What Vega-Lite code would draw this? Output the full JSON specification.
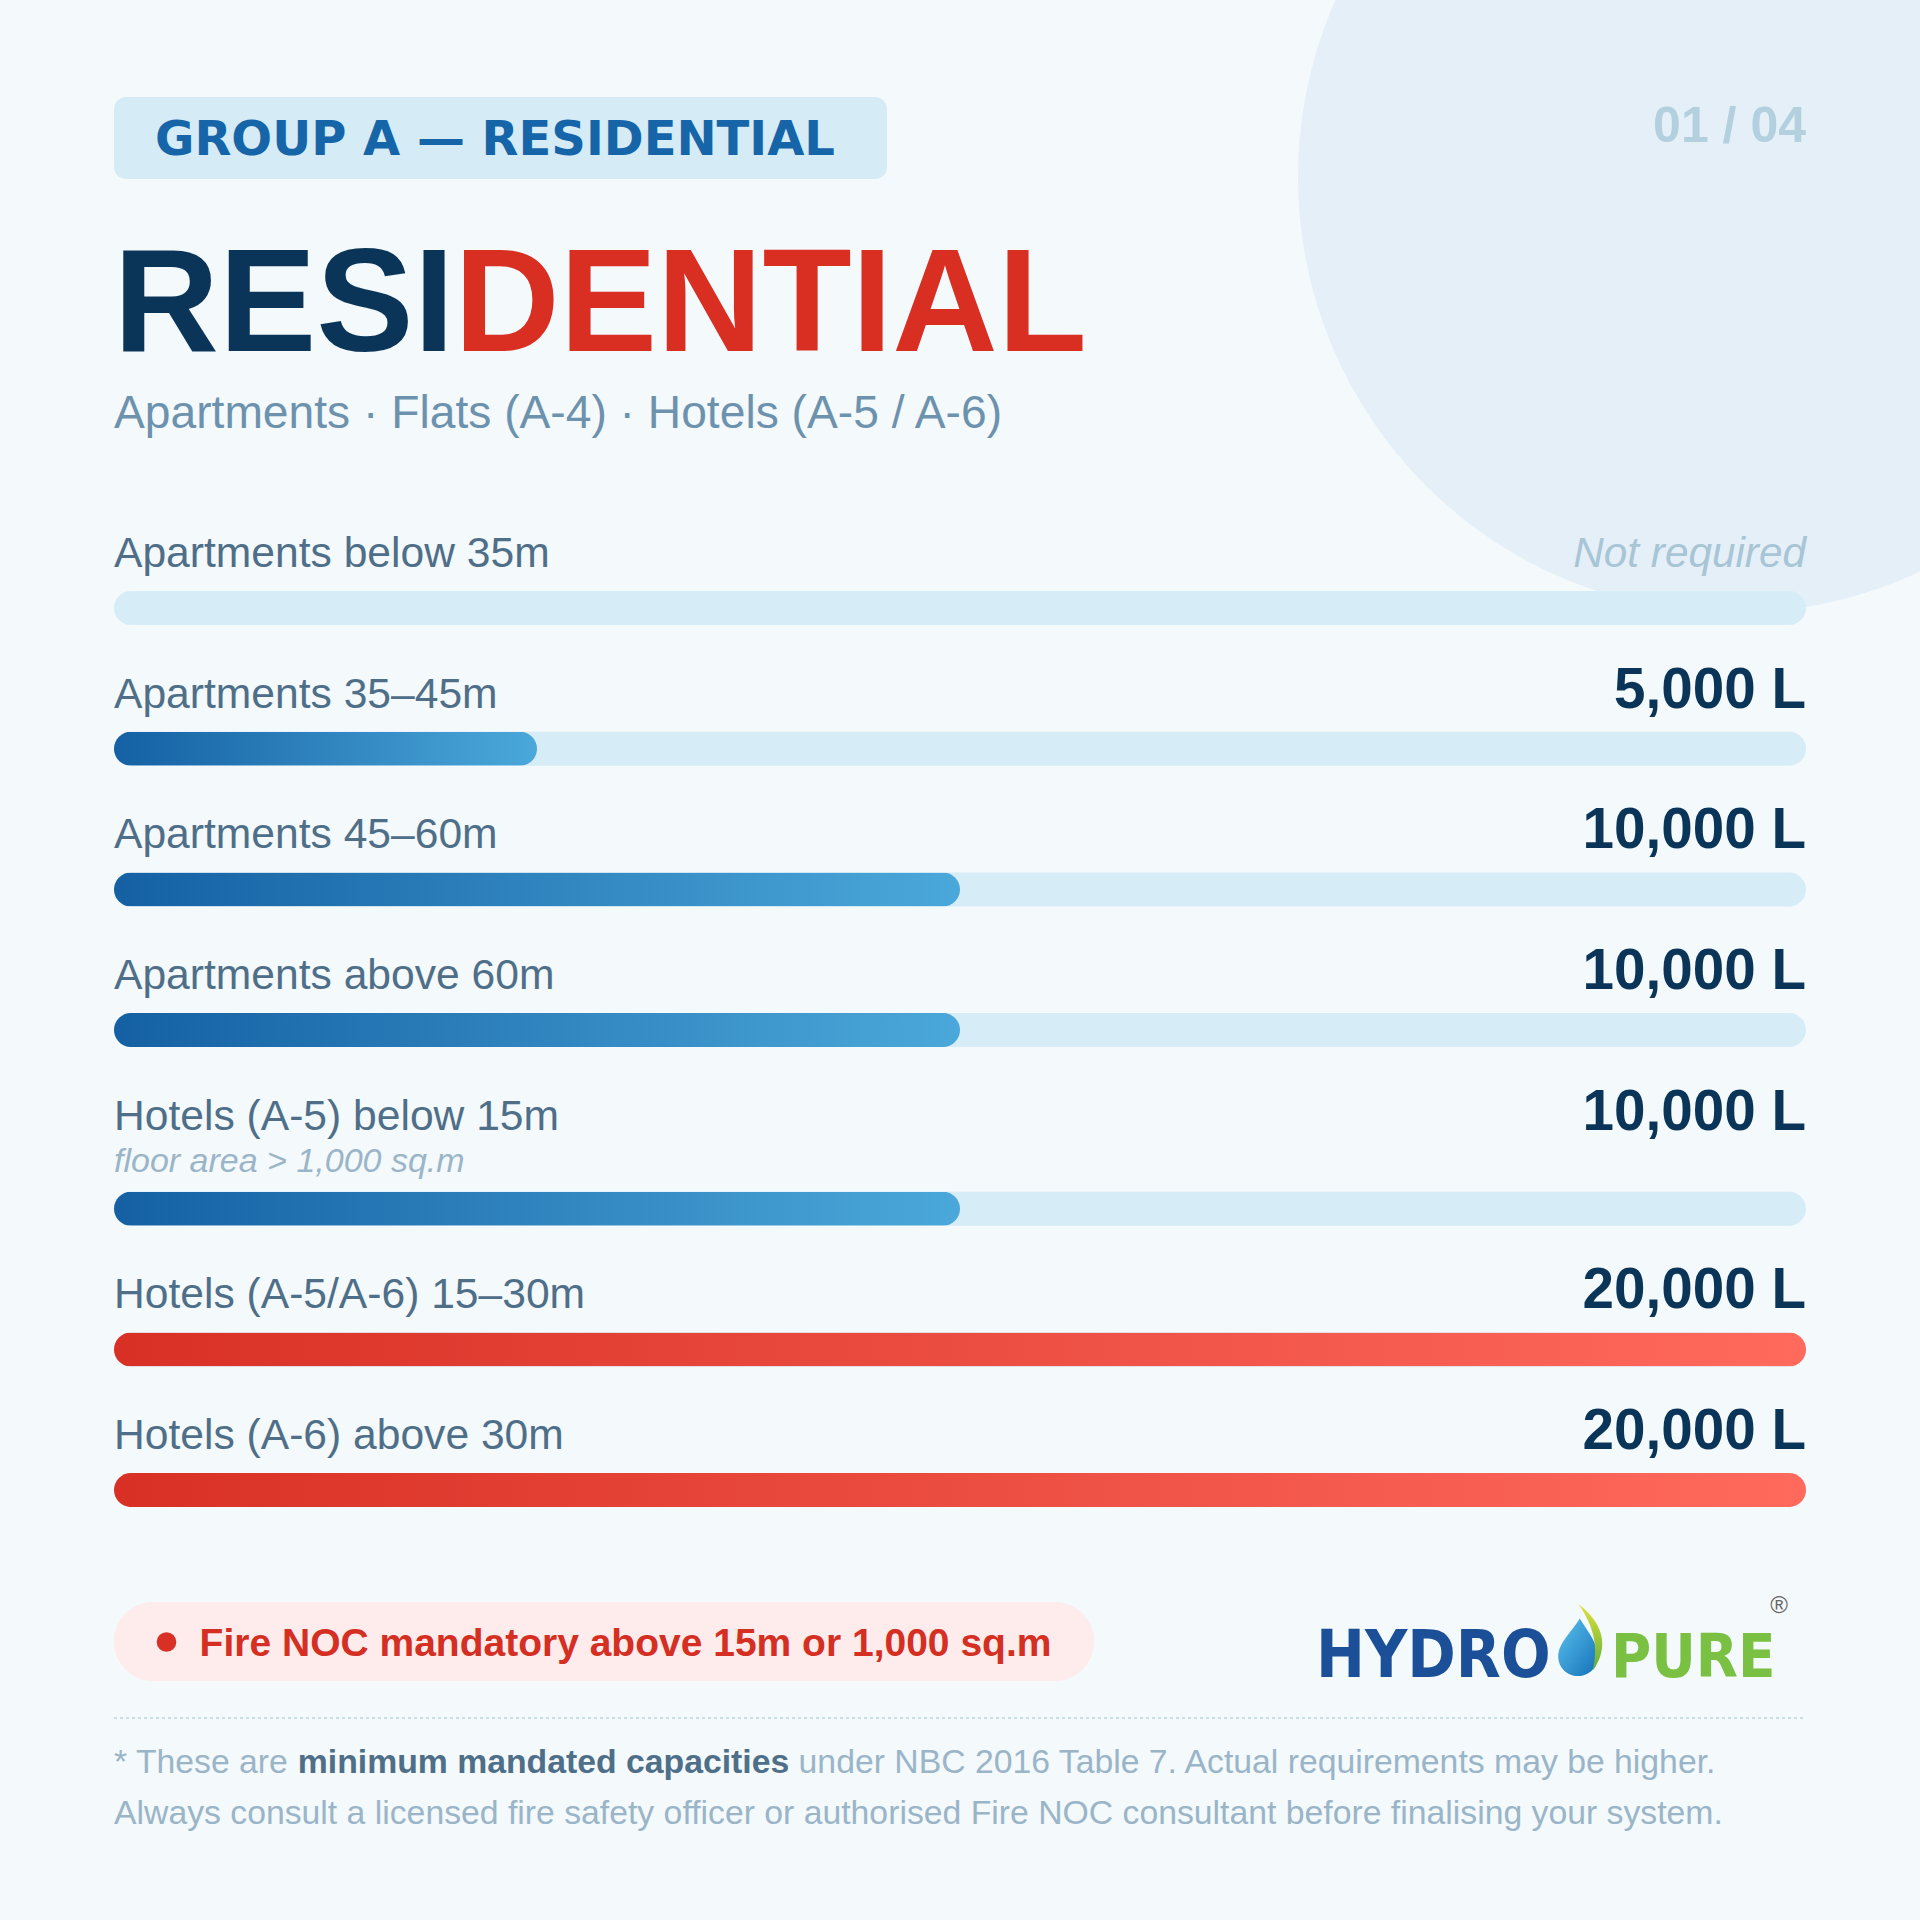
{
  "$schema": "https://vega.github.io/schema/vega-lite/v6.json",
  "width": 1692,
  "height": 1920,
  "autosize": {"type": "none"},
  "padding": {"left": 114, "right": 114, "top": 0, "bottom": 0},
  "background": "#f4f9fc",
  "config": {"view": {"stroke": null}, "text": {"font": "Liberation Sans"}},
  "datasets": {
    "rows": [
      {"idx": 1, "category": "Apartments below 35m", "note": null, "liters": 0, "display": "Not required"},
      {"idx": 2, "category": "Apartments 35–45m", "note": null, "liters": 5000, "display": "5,000 L"},
      {"idx": 3, "category": "Apartments 45–60m", "note": null, "liters": 10000, "display": "10,000 L"},
      {"idx": 4, "category": "Apartments above 60m", "note": null, "liters": 10000, "display": "10,000 L"},
      {"idx": 5, "category": "Hotels (A-5) below 15m", "note": "floor area > 1,000 sq.m", "liters": 10000, "display": "10,000 L"},
      {"idx": 6, "category": "Hotels (A-5/A-6) 15–30m", "note": null, "liters": 20000, "display": "20,000 L"},
      {"idx": 7, "category": "Hotels (A-6) above 30m", "note": null, "liters": 20000, "display": "20,000 L"}
    ]
  },
  "layer": [
    {
      "data": {"values": [{"item": "circle"}]},
      "mark": {"type": "point", "shape": "circle", "filled": true, "color": "#e4eff8", "opacity": 1, "size": 760384, "strokeWidth": 0},
      "encoding": {"x": {"value": 1620}, "y": {"value": 177}}
    },
    {
      "data": {"values": [{"item": "badge"}]},
      "mark": {"type": "rect", "color": "#d5ecf7", "cornerRadius": 12},
      "encoding": {"x": {"value": 0}, "x2": {"value": 773}, "y": {"value": 97}, "y2": {"value": 179}}
    },
    {
      "data": {"values": [{"text": "GROUP A — RESIDENTIAL"}]},
      "mark": {"type": "text", "font": "DejaVu Sans", "fontWeight": "bold", "fontSize": 48, "color": "#1565a8", "align": "left", "baseline": "alphabetic"},
      "encoding": {"x": {"value": 41}, "y": {"value": 155}, "text": {"field": "text"}}
    },
    {
      "data": {"values": [{"text": "RESI"}]},
      "mark": {"type": "text", "font": "Liberation Sans", "fontWeight": "bold", "fontSize": 146, "color": "#0b3558", "align": "left", "baseline": "alphabetic"},
      "encoding": {"x": {"value": -0.5}, "y": {"value": 351}, "text": {"field": "text"}}
    },
    {
      "data": {"values": [{"text": "DENTIAL"}]},
      "mark": {"type": "text", "font": "Liberation Sans", "fontWeight": "bold", "fontSize": 146, "color": "#d92f23", "align": "left", "baseline": "alphabetic"},
      "encoding": {"x": {"value": 340.3}, "y": {"value": 351}, "text": {"field": "text"}}
    },
    {
      "data": {"values": [{"text": "Apartments · Flats (A-4) · Hotels (A-5 / A-6)"}]},
      "mark": {"type": "text", "font": "Liberation Sans", "fontSize": 46.2, "color": "#6d92ad", "align": "left", "baseline": "alphabetic"},
      "encoding": {"x": {"value": 0}, "y": {"value": 428}, "text": {"field": "text"}}
    },
    {
      "data": {"values": [{"text": "01 / 04"}]},
      "mark": {"type": "text", "font": "Liberation Sans", "fontWeight": "bold", "fontSize": 50, "color": "#b3d0de", "align": "right", "baseline": "alphabetic"},
      "encoding": {"x": {"value": 1692}, "y": {"value": 142}, "text": {"field": "text"}}
    },
    {
      "data": {"name": "rows"},
      "transform": [{"filter": "datum.idx <= 4"}],
      "mark": {"type": "bar", "color": "#d6ecf7", "size": 34, "cornerRadius": 17},
      "encoding": {
        "x": {"datum": 0, "type": "quantitative", "axis": null, "scale": {"domain": [0, 20000], "nice": false, "zero": true}},
        "x2": {"datum": 20000},
        "y": {"field": "category", "type": "nominal", "axis": null, "scale": {"domain": ["Apartments below 35m", "Apartments 35–45m", "Apartments 45–60m", "Apartments above 60m", "Hotels (A-5) below 15m", "Hotels (A-5/A-6) 15–30m", "Hotels (A-6) above 30m"], "range": [537.7, 1522.4], "paddingInner": 0, "paddingOuter": 0}}
      }
    },
    {
      "data": {"name": "rows"},
      "transform": [{"filter": "datum.idx >= 5"}],
      "mark": {"type": "bar", "color": "#d6ecf7", "size": 34, "cornerRadius": 17, "yOffset": 38},
      "encoding": {
        "x": {"datum": 0, "type": "quantitative", "axis": null, "scale": {"domain": [0, 20000], "nice": false, "zero": true}},
        "x2": {"datum": 20000},
        "y": {"field": "category", "type": "nominal", "axis": null, "scale": {"domain": ["Apartments below 35m", "Apartments 35–45m", "Apartments 45–60m", "Apartments above 60m", "Hotels (A-5) below 15m", "Hotels (A-5/A-6) 15–30m", "Hotels (A-6) above 30m"], "range": [537.7, 1522.4], "paddingInner": 0, "paddingOuter": 0}}
      }
    },
    {
      "data": {"name": "rows"},
      "transform": [{"filter": "datum.idx <= 4 && datum.liters > 0 && datum.liters < 20000"}],
      "mark": {"type": "bar", "size": 34, "cornerRadius": 17, "color": {"gradient": "linear", "x1": 0, "y1": 0, "x2": 1, "y2": 0, "stops": [{"offset": 0, "color": "#1460a3"}, {"offset": 1, "color": "#4ba8da"}]}},
      "encoding": {
        "x": {"field": "liters", "type": "quantitative", "axis": null, "scale": {"domain": [0, 20000], "nice": false, "zero": true}},
        "y": {"field": "category", "type": "nominal", "axis": null, "scale": {"domain": ["Apartments below 35m", "Apartments 35–45m", "Apartments 45–60m", "Apartments above 60m", "Hotels (A-5) below 15m", "Hotels (A-5/A-6) 15–30m", "Hotels (A-6) above 30m"], "range": [537.7, 1522.4], "paddingInner": 0, "paddingOuter": 0}}
      }
    },
    {
      "data": {"name": "rows"},
      "transform": [{"filter": "datum.idx >= 5 && datum.liters > 0 && datum.liters < 20000"}],
      "mark": {"type": "bar", "size": 34, "cornerRadius": 17, "yOffset": 38, "color": {"gradient": "linear", "x1": 0, "y1": 0, "x2": 1, "y2": 0, "stops": [{"offset": 0, "color": "#1460a3"}, {"offset": 1, "color": "#4ba8da"}]}},
      "encoding": {
        "x": {"field": "liters", "type": "quantitative", "axis": null, "scale": {"domain": [0, 20000], "nice": false, "zero": true}},
        "y": {"field": "category", "type": "nominal", "axis": null, "scale": {"domain": ["Apartments below 35m", "Apartments 35–45m", "Apartments 45–60m", "Apartments above 60m", "Hotels (A-5) below 15m", "Hotels (A-5/A-6) 15–30m", "Hotels (A-6) above 30m"], "range": [537.7, 1522.4], "paddingInner": 0, "paddingOuter": 0}}
      }
    },
    {
      "data": {"name": "rows"},
      "transform": [{"filter": "datum.liters >= 20000"}],
      "mark": {"type": "bar", "size": 34, "cornerRadius": 17, "yOffset": 38, "color": {"gradient": "linear", "x1": 0, "y1": 0, "x2": 1, "y2": 0, "stops": [{"offset": 0, "color": "#d93025"}, {"offset": 1, "color": "#ff6a5d"}]}},
      "encoding": {
        "x": {"field": "liters", "type": "quantitative", "axis": null, "scale": {"domain": [0, 20000], "nice": false, "zero": true}},
        "y": {"field": "category", "type": "nominal", "axis": null, "scale": {"domain": ["Apartments below 35m", "Apartments 35–45m", "Apartments 45–60m", "Apartments above 60m", "Hotels (A-5) below 15m", "Hotels (A-5/A-6) 15–30m", "Hotels (A-6) above 30m"], "range": [537.7, 1522.4], "paddingInner": 0, "paddingOuter": 0}}
      }
    },
    {
      "data": {"name": "rows"},
      "transform": [{"filter": "datum.idx <= 5"}],
      "mark": {"type": "text", "font": "Liberation Sans", "fontSize": 42.6, "color": "#4f6f89", "align": "left", "baseline": "alphabetic", "dy": -41},
      "encoding": {
        "x": {"datum": 0, "type": "quantitative", "axis": null, "scale": {"domain": [0, 20000], "nice": false, "zero": true}},
        "y": {"field": "category", "type": "nominal", "axis": null, "scale": {"domain": ["Apartments below 35m", "Apartments 35–45m", "Apartments 45–60m", "Apartments above 60m", "Hotels (A-5) below 15m", "Hotels (A-5/A-6) 15–30m", "Hotels (A-6) above 30m"], "range": [537.7, 1522.4], "paddingInner": 0, "paddingOuter": 0}},
        "text": {"field": "category"}
      }
    },
    {
      "data": {"name": "rows"},
      "transform": [{"filter": "datum.idx >= 6"}],
      "mark": {"type": "text", "font": "Liberation Sans", "fontSize": 42.6, "color": "#4f6f89", "align": "left", "baseline": "alphabetic", "dy": -3},
      "encoding": {
        "x": {"datum": 0, "type": "quantitative", "axis": null, "scale": {"domain": [0, 20000], "nice": false, "zero": true}},
        "y": {"field": "category", "type": "nominal", "axis": null, "scale": {"domain": ["Apartments below 35m", "Apartments 35–45m", "Apartments 45–60m", "Apartments above 60m", "Hotels (A-5) below 15m", "Hotels (A-5/A-6) 15–30m", "Hotels (A-6) above 30m"], "range": [537.7, 1522.4], "paddingInner": 0, "paddingOuter": 0}},
        "text": {"field": "category"}
      }
    },
    {
      "data": {"name": "rows"},
      "transform": [{"filter": "datum.note != null"}],
      "mark": {"type": "text", "font": "Liberation Sans", "fontSize": 34, "fontStyle": "italic", "color": "#9bb5c8", "align": "left", "baseline": "alphabetic", "dy": 1},
      "encoding": {
        "x": {"datum": 0, "type": "quantitative", "axis": null, "scale": {"domain": [0, 20000], "nice": false, "zero": true}},
        "y": {"field": "category", "type": "nominal", "axis": null, "scale": {"domain": ["Apartments below 35m", "Apartments 35–45m", "Apartments 45–60m", "Apartments above 60m", "Hotels (A-5) below 15m", "Hotels (A-5/A-6) 15–30m", "Hotels (A-6) above 30m"], "range": [537.7, 1522.4], "paddingInner": 0, "paddingOuter": 0}},
        "text": {"field": "note"}
      }
    },
    {
      "data": {"name": "rows"},
      "transform": [{"filter": "datum.liters == 0"}],
      "mark": {"type": "text", "font": "Liberation Sans", "fontSize": 42.3, "fontStyle": "italic", "color": "#a8c5d6", "align": "right", "baseline": "alphabetic", "dy": -41},
      "encoding": {
        "x": {"datum": 20000, "type": "quantitative", "axis": null, "scale": {"domain": [0, 20000], "nice": false, "zero": true}},
        "y": {"field": "category", "type": "nominal", "axis": null, "scale": {"domain": ["Apartments below 35m", "Apartments 35–45m", "Apartments 45–60m", "Apartments above 60m", "Hotels (A-5) below 15m", "Hotels (A-5/A-6) 15–30m", "Hotels (A-6) above 30m"], "range": [537.7, 1522.4], "paddingInner": 0, "paddingOuter": 0}},
        "text": {"field": "display"}
      }
    },
    {
      "data": {"name": "rows"},
      "transform": [{"filter": "datum.liters > 0 && datum.idx <= 5"}],
      "mark": {"type": "text", "font": "Liberation Sans", "fontSize": 56.6, "fontWeight": "bold", "color": "#0b3558", "align": "right", "baseline": "alphabetic", "dy": -41},
      "encoding": {
        "x": {"datum": 20000, "type": "quantitative", "axis": null, "scale": {"domain": [0, 20000], "nice": false, "zero": true}},
        "y": {"field": "category", "type": "nominal", "axis": null, "scale": {"domain": ["Apartments below 35m", "Apartments 35–45m", "Apartments 45–60m", "Apartments above 60m", "Hotels (A-5) below 15m", "Hotels (A-5/A-6) 15–30m", "Hotels (A-6) above 30m"], "range": [537.7, 1522.4], "paddingInner": 0, "paddingOuter": 0}},
        "text": {"field": "display"}
      }
    },
    {
      "data": {"name": "rows"},
      "transform": [{"filter": "datum.liters > 0 && datum.idx >= 6"}],
      "mark": {"type": "text", "font": "Liberation Sans", "fontSize": 56.6, "fontWeight": "bold", "color": "#0b3558", "align": "right", "baseline": "alphabetic", "dy": -3},
      "encoding": {
        "x": {"datum": 20000, "type": "quantitative", "axis": null, "scale": {"domain": [0, 20000], "nice": false, "zero": true}},
        "y": {"field": "category", "type": "nominal", "axis": null, "scale": {"domain": ["Apartments below 35m", "Apartments 35–45m", "Apartments 45–60m", "Apartments above 60m", "Hotels (A-5) below 15m", "Hotels (A-5/A-6) 15–30m", "Hotels (A-6) above 30m"], "range": [537.7, 1522.4], "paddingInner": 0, "paddingOuter": 0}},
        "text": {"field": "display"}
      }
    },
    {
      "data": {"values": [{"item": "pill"}]},
      "mark": {"type": "rect", "color": "#fdeceb", "cornerRadius": 39},
      "encoding": {"x": {"value": 0}, "x2": {"value": 980}, "y": {"value": 1602}, "y2": {"value": 1681}}
    },
    {
      "data": {"values": [{"item": "dot"}]},
      "mark": {"type": "point", "shape": "circle", "filled": true, "color": "#d93025", "opacity": 1, "size": 384, "strokeWidth": 0},
      "encoding": {"x": {"value": 52.5}, "y": {"value": 1642}}
    },
    {
      "data": {"values": [{"text": "Fire NOC mandatory above 15m or 1,000 sq.m"}]},
      "mark": {"type": "text", "font": "Liberation Sans", "fontWeight": "bold", "fontSize": 39, "color": "#d42f22", "align": "left", "baseline": "alphabetic"},
      "encoding": {"x": {"value": 85.6}, "y": {"value": 1655.5}, "text": {"field": "text"}}
    },
    {
      "data": {"values": [{"item": "drop"}]},
      "mark": {"type": "point", "filled": true, "opacity": 1, "strokeWidth": 0, "size": 5184, "shape": "M0.05,-0.6 C0.3,-0.2 0.55,0.1 0.55,0.45 C0.55,0.77 0.3,1 0,1 C-0.3,1 -0.55,0.77 -0.55,0.45 C-0.55,0.1 -0.2,-0.2 0.05,-0.6 Z", "color": {"gradient": "linear", "x1": 0, "y1": 0, "x2": 1, "y2": 1, "stops": [{"offset": 0, "color": "#5cc3ee"}, {"offset": 1, "color": "#1470b8"}]}},
      "encoding": {"x": {"value": 1464}, "y": {"value": 1640}}
    },
    {
      "data": {"values": [{"item": "leaf"}]},
      "mark": {"type": "point", "filled": true, "opacity": 1, "strokeWidth": 0, "size": 5184, "shape": "M-0.1,-1 C0.55,-0.5 0.8,0.15 0.3,0.85 C0.45,0.2 0.35,-0.35 -0.1,-1 Z", "color": {"gradient": "linear", "x1": 0, "y1": 0, "x2": 0, "y2": 1, "stops": [{"offset": 0, "color": "#dfe23a"}, {"offset": 1, "color": "#5fae3c"}]}},
      "encoding": {"x": {"value": 1468}, "y": {"value": 1640}}
    },
    {
      "data": {"values": [{"text": "HYDRO"}]},
      "mark": {"type": "text", "font": "Liberation Sans Narrow, DejaVu Sans Condensed, Liberation Sans", "fontWeight": "bold", "fontSize": 65, "color": "#1b4f97", "align": "left", "baseline": "alphabetic"},
      "encoding": {"x": {"value": 1202}, "y": {"value": 1677}, "text": {"field": "text"}}
    },
    {
      "data": {"values": [{"text": "PURE"}]},
      "mark": {"type": "text", "font": "Liberation Sans Narrow, DejaVu Sans Condensed, Liberation Sans", "fontWeight": "bold", "fontSize": 61, "color": "#7ac143", "align": "left", "baseline": "alphabetic"},
      "encoding": {"x": {"value": 1497}, "y": {"value": 1677}, "text": {"field": "text"}}
    },
    {
      "data": {"values": [{"text": "®"}]},
      "mark": {"type": "text", "font": "Liberation Sans", "fontSize": 24, "color": "#666666", "align": "center", "baseline": "middle"},
      "encoding": {"x": {"value": 1665}, "y": {"value": 1606}, "text": {"field": "text"}}
    },
    {
      "data": {"values": [{"item": "divider"}]},
      "mark": {"type": "rule", "color": "#c9dde9", "strokeWidth": 2, "strokeDash": [3, 3]},
      "encoding": {"x": {"value": 0}, "x2": {"value": 1692}, "y": {"value": 1718}}
    },
    {
      "data": {"values": [{"text": "* These are"}]},
      "mark": {"type": "text", "font": "Liberation Sans", "fontSize": 33.75, "color": "#9ab5c8", "align": "left", "baseline": "alphabetic"},
      "encoding": {"x": {"value": 0}, "y": {"value": 1773}, "text": {"field": "text"}}
    },
    {
      "data": {"values": [{"text": "minimum mandated capacities"}]},
      "mark": {"type": "text", "font": "Liberation Sans", "fontSize": 33.75, "fontWeight": "bold", "color": "#4f6f89", "align": "left", "baseline": "alphabetic"},
      "encoding": {"x": {"value": 183.8}, "y": {"value": 1773}, "text": {"field": "text"}}
    },
    {
      "data": {"values": [{"text": "under NBC 2016 Table 7. Actual requirements may be higher."}]},
      "mark": {"type": "text", "font": "Liberation Sans", "fontSize": 33.75, "color": "#9ab5c8", "align": "left", "baseline": "alphabetic"},
      "encoding": {"x": {"value": 684.6}, "y": {"value": 1773}, "text": {"field": "text"}}
    },
    {
      "data": {"values": [{"text": "Always consult a licensed fire safety officer or authorised Fire NOC consultant before finalising your system."}]},
      "mark": {"type": "text", "font": "Liberation Sans", "fontSize": 33.75, "color": "#9ab5c8", "align": "left", "baseline": "alphabetic"},
      "encoding": {"x": {"value": 0}, "y": {"value": 1824}, "text": {"field": "text"}}
    }
  ]
}
